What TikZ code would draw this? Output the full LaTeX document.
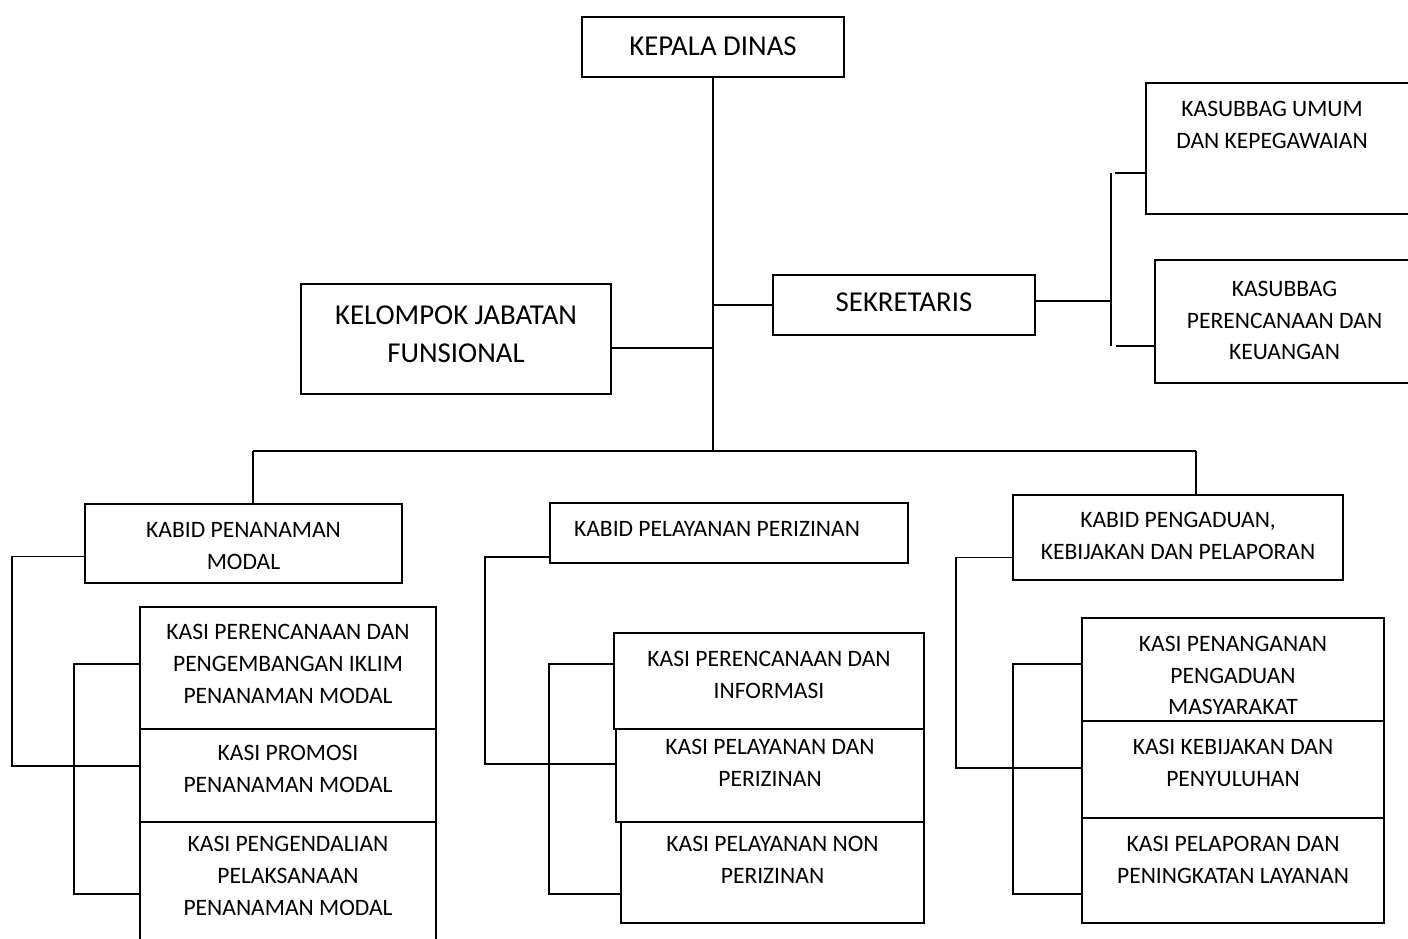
\documentclass[tikz,border=0pt]{standalone}
\usepackage{fontspec}
\setmainfont{Carlito}
\usetikzlibrary{positioning, calc}

\begin{document}
\begin{tikzpicture}[
  x=0.02cm, y=-0.02cm,
  box/.style={rectangle, draw, line width=1.1pt, inner sep=0pt},
  txt/.style={anchor=north, align=center, inner sep=0pt, font=\fontsize{13.4}{18.1}\selectfont},
  bigtxt/.style={anchor=north, align=center, inner sep=0pt, font=\fontsize{16.4}{21.7}\selectfont},
  line/.style={line width=1.1pt}
]
\useasboundingbox (0,0) rectangle (1408,938);
\clip (0,0) rectangle (1408,938);

% Pimpinan
\node[box, minimum width=5.24cm, minimum height=1.2cm] (kadis) at (713,47) {};
\node[box, minimum width=5.24cm, minimum height=1.2cm] (sekr) at (904,305) {};
\node[box, minimum width=6.2cm, minimum height=2.2cm] (jafung) at (456,339) {};

% Subbagian
\node[box, minimum width=5.32cm, minimum height=2.62cm] (umum) at (1279,148.5) {};
\node[box, minimum width=5.14cm, minimum height=2.46cm] (renkeu) at (1283.5,321.5) {};

% Bidang
\node[box, minimum width=6.34cm, minimum height=1.58cm] (kabidA) at (243.5,543.5) {};
\node[box, minimum width=7.16cm, minimum height=1.2cm] (kabidB) at (729,533) {};
\node[box, minimum width=6.6cm, minimum height=1.7cm] (kabidC) at (1178,537.5) {};

% Seksi
\node[box, minimum width=5.92cm, minimum height=2.44cm] (kasiA1) at (288,668) {};
\node[box, minimum width=5.92cm, minimum height=1.86cm] (kasiA2) at (288,775.5) {};
\node[box, minimum width=5.92cm, minimum height=2.56cm] (kasiA3) at (288,886) {};
\node[box, minimum width=6.2cm, minimum height=1.92cm] (kasiB1) at (769,681) {};
\node[box, minimum width=6.16cm, minimum height=1.86cm] (kasiB2) at (770,775.5) {};
\node[box, minimum width=6.06cm, minimum height=2.02cm] (kasiB3) at (772.5,872.5) {};
\node[box, minimum width=6.04cm, minimum height=2.06cm] (kasiC1) at (1233,669.5) {};
\node[box, minimum width=6.04cm, minimum height=1.94cm] (kasiC2) at (1233,769.5) {};
\node[box, minimum width=6.04cm, minimum height=2.1cm] (kasiC3) at (1233,870.5) {};

% Teks
\node[bigtxt] (kadisT) at ($(kadis.north)+(0,20)$) {KEPALA DINAS};
\node[bigtxt] (sekrT) at ($(sekr.north)+(0,18)$) {SEKRETARIS};
\node[bigtxt] (jafungT) at ($(jafung.north)+(0,22.7)$) {KELOMPOK JABATAN\\FUNSIONAL};
\node[txt] (umumT) at ($(umum.north)+(-7,18.7)$) {KASUBBAG UMUM\\DAN KEPEGAWAIAN};
\node[txt] (renkeuT) at ($(renkeu.north)+(1,21.7)$) {KASUBBAG\\PERENCANAAN DAN\\KEUANGAN};
\node[txt] (kabidAT) at ($(kabidA.north)+(0,19.3)$) {KABID PENANAMAN\\MODAL};
\node[txt] (kabidBT) at ($(kabidB.north)+(-12,18.7)$) {KABID PELAYANAN PERIZINAN};
\node[txt] (kabidCT) at ($(kabidC.north)+(0,17.7)$) {KABID PENGADUAN,\\KEBIJAKAN DAN PELAPORAN};
\node[txt] (kasiA1T) at ($(kasiA1.north)+(0,18)$) {KASI PERENCANAAN DAN\\PENGEMBANGAN IKLIM\\PENANAMAN MODAL};
\node[txt] (kasiA2T) at ($(kasiA2.north)+(0,17)$) {KASI PROMOSI\\PENANAMAN MODAL};
\node[txt] (kasiA3T) at ($(kasiA3.north)+(0,14.7)$) {KASI PENGENDALIAN\\PELAKSANAAN\\PENANAMAN MODAL};
\node[txt] (kasiB1T) at ($(kasiB1.north)+(0,18.7)$) {KASI PERENCANAAN DAN\\INFORMASI};
\node[txt] (kasiB2T) at ($(kasiB2.north)+(0,11)$) {KASI PELAYANAN DAN\\PERIZINAN};
\node[txt] (kasiB3T) at ($(kasiB3.north)+(0,14.7)$) {KASI PELAYANAN NON\\PERIZINAN};
\node[txt] (kasiC1T) at ($(kasiC1.north)+(0,18.7)$) {KASI PENANGANAN\\PENGADUAN\\MASYARAKAT};
\node[txt] (kasiC2T) at ($(kasiC2.north)+(0,19)$) {KASI KEBIJAKAN DAN\\PENYULUHAN};
\node[txt] (kasiC3T) at ($(kasiC3.north)+(0,18.7)$) {KASI PELAPORAN DAN\\PENINGKATAN LAYANAN};

% Garis pimpinan
\coordinate (busL) at (253,451);
\coordinate (busR) at (1196,451);
\coordinate (jfE) at ($(jafung.east)+(0,9)$);
\draw[line] (kadis.south) -- (kadis.south |- busL);
\draw[line] (busL) -- (busR);
\draw[line] (busL) -- (busL |- kabidA.north);
\draw[line] (busR) -- (busR |- kabidC.north);
\draw[line] (sekr.west -| kadis.south) -- (sekr.west);
\draw[line] (jfE) -- (jfE -| kadis.south);

% Garis sekretariat
\coordinate (skE) at ($(sekr.east)+(0,-4)$);
\coordinate (sbrT) at (1111,173);
\coordinate (sbrB) at (1111,346);
\draw[line] (skE) -- (skE -| sbrT);
\draw[line] (sbrT) -- (sbrB);
\draw[line] ($(sbrT)+(4,0)$) -- (sbrT -| umum.west);
\draw[line] ($(sbrB)+(5,0)$) -- (sbrB -| renkeu.west);

% Bidang penanaman modal
\coordinate (aK) at ($(kabidA.west)+(0,13)$);
\coordinate (aL) at (12,766);
\coordinate (aT) at (74,664);
\coordinate (aB) at (74,894);
\draw[line] (aK) -| (aL) -- (aL -| kasiA2.west);
\draw[line] (aT -| kasiA1.west) -- (aT) -- (aB) -- (aB -| kasiA3.west);

% Bidang pelayanan perizinan
\coordinate (bK) at ($(kabidB.west)+(0,24)$);
\coordinate (bL) at (485,764);
\coordinate (bT) at (549,664);
\coordinate (bB) at (549,894);
\draw[line] (bK) -| (bL) -- (bL -| kasiB2.west);
\draw[line] (bT -| kasiB1.west) -- (bT) -- (bB) -- (bB -| kasiB3.west);

% Bidang pengaduan
\coordinate (cK) at ($(kabidC.west)+(0,20)$);
\coordinate (cL) at (956,768);
\coordinate (cT) at (1013,664);
\coordinate (cB) at (1013,894);
\draw[line] (cK) -| (cL) -- (cL -| kasiC2.west);
\draw[line] (cT -| kasiC1.west) -- (cT) -- (cB) -- (cB -| kasiC3.west);

\end{tikzpicture}
\end{document}
